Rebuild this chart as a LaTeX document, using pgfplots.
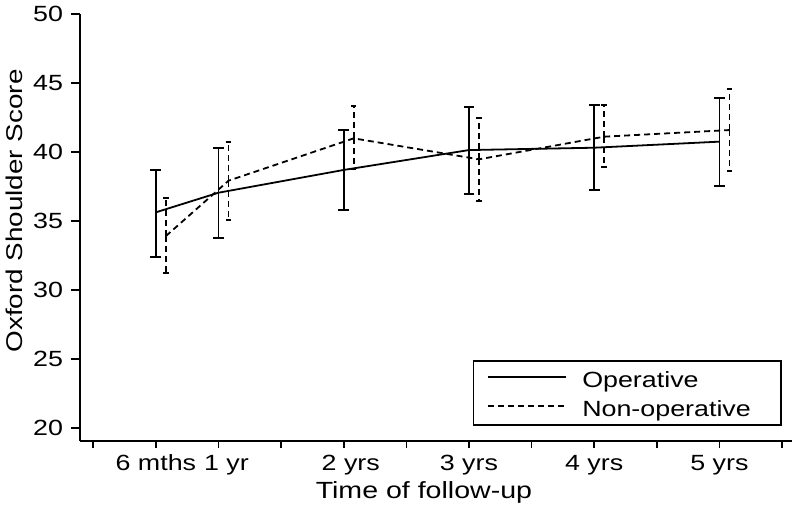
\documentclass[border=0pt]{standalone}
\usepackage{fontspec}
\setmainfont{Liberation Sans}[FakeStretch=1.22]
\usepackage{pgfplots}
\pgfplotsset{compat=1.18}
\pgfdeclareplotmark{halfcap}{%
  \pgfpathmoveto{\pgfpoint{0pt}{0pt}}%
  \pgfpathlineto{\pgfpoint{0pt}{-\pgfplotmarksize}}%
  \pgfusepathqstroke}
\pgfplotstableread{
x y ep em
0.5 35.63 3.07 3.22
1 37.05 3.26 3.30
2 38.70 2.89 2.90
3 40.14 3.14 3.18
4 40.31 3.10 3.06
5 40.75 3.14 3.19
}\operative
\pgfplotstableread{
x y ep em
0.58 33.91 2.73 2.70
1.08 37.92 2.83 2.85
2.08 40.99 2.37 2.24
3.08 39.47 3.02 3.00
4.08 41.11 2.29 2.17
5.08 41.59 2.98 2.94
}\nonoperative
\begin{document}
\fontsize{11}{13}\selectfont
\begin{tikzpicture}
\useasboundingbox (-40pt,-33pt) rectangle (358pt,220.5pt);
\begin{axis}[
  at={(0pt,0pt)}, anchor=south west,
  scale only axis, width=356pt, height=213.5pt,
  xmin=-0.106, xmax=5.58, ymin=19.06, ymax=50,
  axis lines=left,
  axis line style={line width=0.8pt, -},
  tick style={line width=0.8pt, black},
  tick align=outside,
  xtick={0,0.5,...,5.5},
  xticklabels={,6 mths,\hspace*{8pt}1 yr,,\hspace*{7pt}2 yrs,,3 yrs,,4 yrs,,5 yrs,},
  ytick={20,25,...,50},
  xtick style={/pgfplots/major tick length=3.5pt},
  ytick style={/pgfplots/major tick length=4.5pt},
  minor tick num=0,
  /pgf/number format/assume math mode=true,
  tick label style={font=\fontsize{11}{13}\selectfont},
  xticklabel style={inner ysep=0pt, yshift=-2.5pt},
  yticklabel style={inner xsep=0pt, xshift=-4pt},
  xlabel={Time of follow-up},
  ylabel={Oxford Shoulder Score},
  xlabel style={font=\fontsize{11.7}{14}\selectfont, inner sep=0pt, at={(axis description cs:0.483,0)}, anchor=north, yshift=-20pt},
  ylabel style={font=\fontsize{11.4}{14}\selectfont, inner sep=0pt, at={(axis description cs:0,0.539)}, anchor=south, yshift=28.5pt},
  legend cell align=left,
  legend style={at={(axis description cs:0.986,0.0351)}, anchor=south east,
    draw=black, line width=0.8pt, fill=white,
    font=\fontsize{11}{13}\selectfont,
    nodes={inner xsep=0pt, inner ysep=2pt, text height=9.8pt, text depth=0.7pt},
    inner xsep=7pt, inner ysep=1.5pt, row sep=0pt},
  legend image code/.code={\draw[#1] (0pt,1pt) -- (39pt,1pt);},
]
\addplot[black, line width=0.9pt,
  error bars/.cd, y dir=both, y explicit,
  error mark=|,
  error bar style={line width=0.9pt, solid},
  error mark options={mark size=2.7pt, line width=0.9pt, solid}]
  table[x=x, y=y, y error plus=ep, y error minus=em] {\operative};
\addlegendentry{\makebox[100pt][l]{\hspace*{7.5pt}Operative}}
\addplot[black, line width=0.9pt, dash pattern=on 3pt off 2pt,
  error bars/.cd, y dir=both, y explicit,
  error mark=halfcap,
  error bar style={line width=0.9pt, dash pattern=on 3pt off 2pt},
  error mark options={mark size=2.7pt, line width=0.9pt, solid}]
  table[x=x, y=y, y error plus=ep, y error minus=em] {\nonoperative};
\addlegendentry{\makebox[100pt][l]{\hspace*{7.5pt}Non-operative}}
\end{axis}
\end{tikzpicture}
\end{document}
